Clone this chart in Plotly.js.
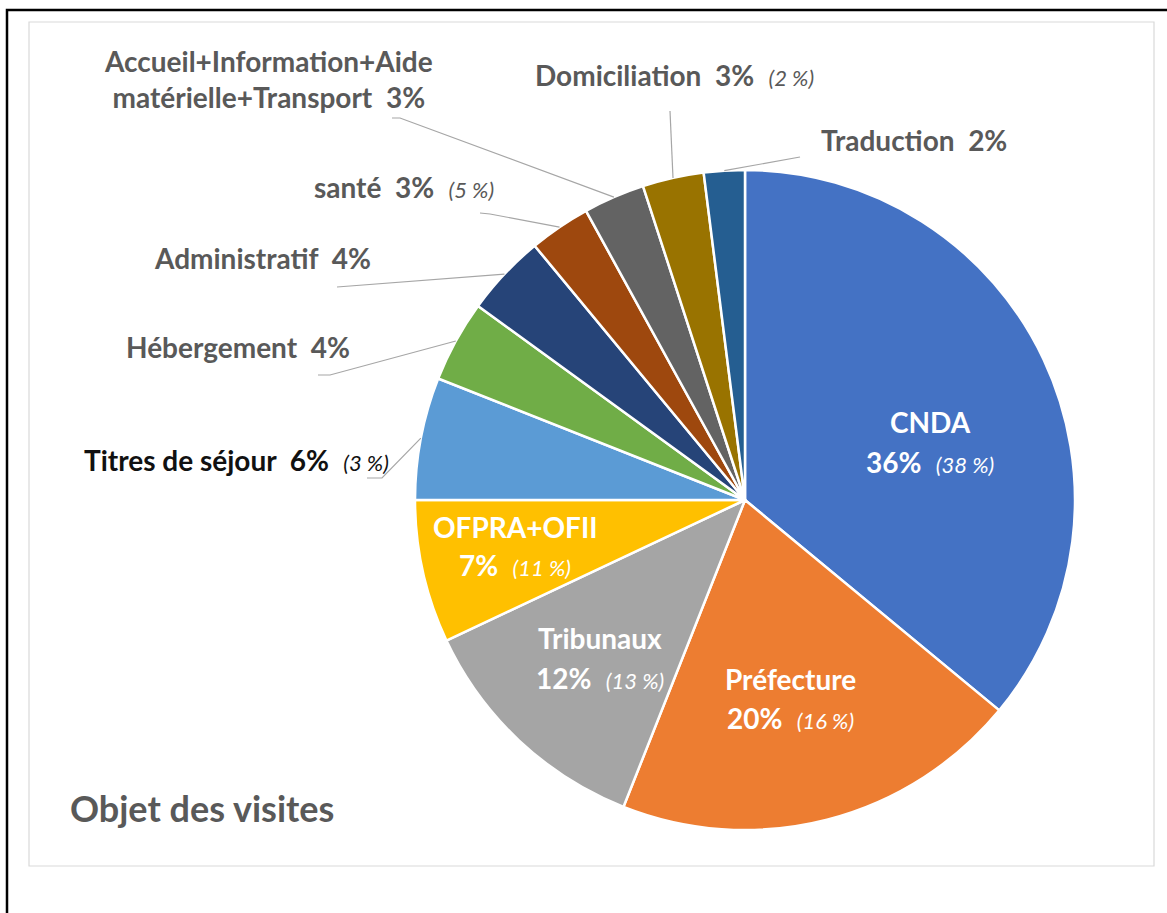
<!DOCTYPE html>
<html>
<head>
<meta charset="utf-8">
<script src="https://cdn.plot.ly/plotly-3.0.1.min.js"></script>
<style>html,body{margin:0;padding:0;background:#fff;}#chart{width:1167px;height:913px;}</style>
</head>
<body>
<div id="chart"></div>
<script>
// ---- data ----
const categories = ["CNDA", "Préfecture", "Tribunaux", "OFPRA+OFII", "Titres de séjour", "Hébergement", "Administratif", "santé", "Accueil+Information+Aide<br>matérielle+Transport", "Domiciliation", "Traduction"];
const values = [36, 20, 12, 7, 6, 4, 4, 3, 3, 3, 2];
const previousValues = [38, 16, 13, 11, 3, null, null, 5, null, 2, null];
const colors = ["#4472C4", "#ED7D31", "#A5A5A5", "#FFC000", "#5B9BD5", "#70AD47", "#264478", "#9E480E", "#636363", "#997300", "#255E91"];
const chartTitle = "Objet des visites";

// ---- geometry (pixels) ----
const W = 1167, H = 913;
const CX = 745, CY = 500, R = 330;
const px = x => x / W;
const py = y => 1 - y / H;

const FONT = "Lato, 'Open Sans', sans-serif";
const GREY = "#595959";
const BIG = 28, SMALL = 22;

const total = values.reduce((a, b) => a + b, 0);
const cum = [];
let acc = 0;
values.forEach(v => { cum.push(acc); acc += v; });
function midPoint(i, r) {
  const a = (cum[i] + values[i] / 2) / total * 2 * Math.PI;
  return [CX + r * Math.sin(a), CY - r * Math.cos(a)];
}
function prevTxt(i) {
  return previousValues[i] == null ? "" :
    "  <span style='font-size:" + SMALL + "px'><i>(" + previousValues[i] + " %)</i></span>";
}
function ann(x, y, text, size, color, xanchor) {
  return {x: px(x), y: py(y), xref: "paper", yref: "paper", showarrow: false,
    xanchor: xanchor || "center", yanchor: "middle", align: "center",
    text: text, font: {family: FONT, size: size, color: color}};
}

const annotations = [];
const shapes = [];

// inside labels: [index, centre x, line1 y, line2 y]
const inside = [[0, 930, 422, 462], [1, 790, 679, 718], [2, 600, 638, 678], [3, 515, 527, 565]];
inside.forEach(([i, x, y1, y2]) => {
  annotations.push(ann(x, y1, "<b>" + categories[i] + "</b>", BIG, "#ffffff"));
  annotations.push(ann(x, y2, "<b>" + values[i] + "%</b>" + prevTxt(i), BIG, "#ffffff"));
});

// outside labels: [index, centre x, centre y, leader path points, colour]
const outside = [
  [4, 236, 460, [[382, 478], [367, 478]], "#111111"],
  [5, 238, 347, [[330, 375], [318, 375]], GREY],
  [6, 262, 258, [[337, 287]], GREY],
  [7, 404, 187, [[490, 214], [480, 213]], GREY],
  [8, 268, 79, [[400, 118], [392, 118]], GREY],
  [9, 674, 75, [[670, 111]], GREY],
  [10, 914, 140, [[800, 157]], GREY]
];
outside.forEach(([i, x, y, pts, col]) => {
  annotations.push(ann(x, y, "<b>" + categories[i] + "  " + values[i] + "%</b>" + prevTxt(i), BIG, col));
  const s = midPoint(i, R);
  let path = "M" + px(s[0]) + "," + py(s[1]);
  pts.forEach(p => { path += " L" + px(p[0]) + "," + py(p[1]); });
  shapes.push({type: "path", xref: "paper", yref: "paper", path: path,
    line: {color: "#a6a6a6", width: 1.2}});
});

// title
annotations.push(ann(68, 808, "<b>" + chartTitle + "</b>", 36, GREY, "left"));

// frames
shapes.push({type: "rect", xref: "paper", yref: "paper", x0: px(29), x1: px(1154), y0: py(866), y1: py(22),
  line: {color: "#d9d9d9", width: 1.2}, layer: "below"});
shapes.push({type: "rect", xref: "paper", yref: "paper", x0: px(7), x1: px(1180), y0: py(930), y1: py(10),
  line: {color: "#000000", width: 2.5}, layer: "below"});

const trace = {
  type: "pie",
  values: values,
  labels: categories,
  sort: false,
  direction: "clockwise",
  rotation: 0,
  textinfo: "none",
  hoverinfo: "label+percent",
  marker: {colors: colors, line: {color: "#ffffff", width: 2.5}},
  domain: {x: [px(CX - R), px(CX + R)], y: [py(CY + R), py(CY - R)]},
  showlegend: false
};

const layout = {
  width: W, height: H,
  margin: {l: 0, r: 0, t: 0, b: 0},
  paper_bgcolor: "#ffffff",
  showlegend: false,
  annotations: annotations,
  shapes: shapes
};

Plotly.newPlot("chart", [trace], layout, {displayModeBar: false, staticPlot: true});
</script>
</body>
</html>
